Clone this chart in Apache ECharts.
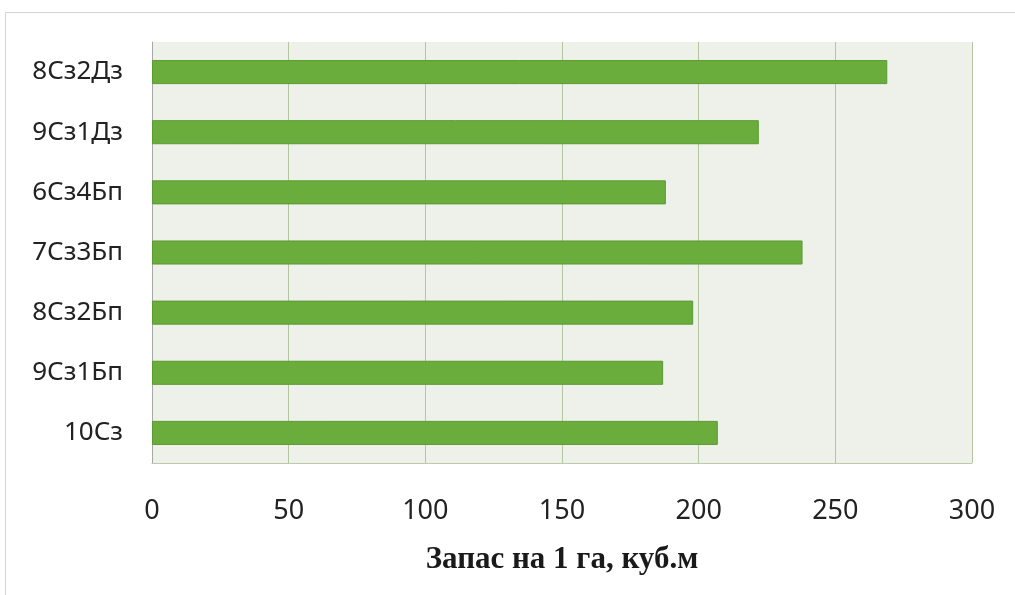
<!DOCTYPE html>
<html><head><meta charset="utf-8">
<script src="https://cdn.jsdelivr.net/npm/echarts@6/dist/echarts.min.js"></script>
<style>html,body{margin:0;padding:0;background:#fff}#c{width:1015px;height:595px}</style>
</head><body><div id="c"></div>
<script>
const categories = ['8Сз2Дз','9Сз1Дз','6Сз4Бп','7Сз3Бп','8Сз2Бп','9Сз1Бп','10Сз'];
const values = [269, 222, 188, 238, 198, 187, 207];
const xTicks = {min: 0, max: 300, interval: 50};
const xTitle = 'Запас на 1 га, куб.м';

const chart = echarts.init(document.getElementById('c'), null, {renderer: 'canvas'});
chart.setOption({
  animation: false,
  graphic: [{type: 'rect', shape: {x: 5.5, y: 12.5, width: 1100, height: 700}, style: {fill: 'none', stroke: '#d4d4d4', lineWidth: 1}, silent: true}],
  grid: {left: 152, right: 43, top: 42, bottom: 132, show: true, backgroundColor: '#eef0ea', borderWidth: 0},
  xAxis: {
    type: 'value', min: xTicks.min, max: xTicks.max, interval: xTicks.interval,
    name: xTitle, nameLocation: 'middle', nameGap: 81,
    nameTextStyle: {fontFamily: 'Liberation Serif', fontWeight: 'bold', fontSize: 31, color: '#1a1a1a'},
    axisLine: {show: true, lineStyle: {color: '#b9cca9', width: 1}},
    axisTick: {show: false},
    axisLabel: {margin: 35, fontFamily: 'Noto Sans', fontSize: 27, color: '#222'},
    splitLine: {show: true, lineStyle: {color: '#b2c6a2', width: 1}}
  },
  yAxis: {
    type: 'category', data: categories, inverse: true,
    axisLine: {show: true, lineStyle: {color: '#a8a8a8', width: 1}},
    axisTick: {show: false},
    axisLabel: {margin: 29, fontFamily: 'Noto Sans', fontSize: 26, color: '#222'},
    splitLine: {show: false}
  },
  series: [{
    type: 'bar', data: values, barWidth: '40%',
    itemStyle: {color: '#6aad3d', borderColor: '#5b9a31', borderWidth: 1}
  }]
});
</script></body></html>
